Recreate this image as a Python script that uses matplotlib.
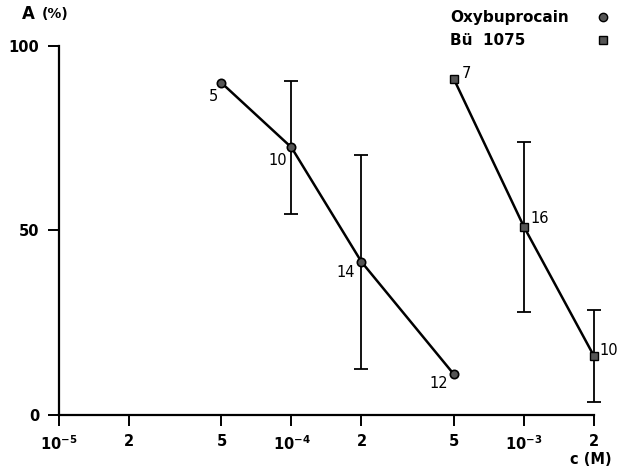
import matplotlib.pyplot as plt
import numpy as np

plt.rcParams['font.family'] = ['DejaVu Sans']

# concentration (M), response A (%), error half-width, number of observations
oxy_c = [5e-5, 1e-4, 2e-4, 5e-4]
oxy_a = [90, 72.5, 41.5, 11]
oxy_err = [0, 18, 29, 0]
oxy_n = ['5', '10', '14', '12']

bue_c = [5e-4, 1e-3, 2e-3]
bue_a = [91, 51, 16]
bue_err = [0, 23, 12.5]
bue_n = ['7', '16', '10']

xticks = [1e-5, 2e-5, 5e-5, 1e-4, 2e-4, 5e-4, 1e-3, 2e-3]
xticklabels = [r'$\mathbf{10^{-5}}$', '2', '5', r'$\mathbf{10^{-4}}$', '2', '5',
               r'$\mathbf{10^{-3}}$', '2']
yticks = [0, 50, 100]

fig = plt.figure(figsize=(6.17, 4.74), dpi=100)
ax = fig.add_axes([0.0956, 0.1245, 0.867, 0.7785])

ax.set_xscale('log')
ax.set_xlim(1e-5, 2e-3)
ax.set_ylim(0, 100)

# lines through the means
ax.plot(oxy_c, oxy_a, color='black', lw=1.8, zorder=2)
ax.plot(bue_c, bue_a, color='black', lw=1.8, zorder=2)

# error bars where a spread is given
for c, a, e in zip(oxy_c + bue_c, oxy_a + bue_a, oxy_err + bue_err):
    if e > 0:
        _, caps, bars = ax.errorbar([c], [a], yerr=[e], fmt='none',
                                    ecolor='black', elinewidth=1.3, capsize=5,
                                    capthick=1.3, zorder=1)
        for art in list(caps) + list(bars):
            art.set_clip_on(False)

ax.plot(oxy_c, oxy_a, 'o', ms=6, mfc='#555555', mec='black', mew=1.2,
        ls='none', zorder=3, clip_on=False)
ax.plot(bue_c, bue_a, 's', ms=6, mfc='#555555', mec='black', mew=1.0,
        ls='none', zorder=3, clip_on=False)

# n labels
oxy_off = [(-6, -10), (-10, -9.5), (-11, -8), (-11, -6.5)]
bue_off = [(9, 4), (11.5, 6), (11, 3.6)]
for c, a, n, off in zip(oxy_c, oxy_a, oxy_n, oxy_off):
    ax.annotate(n, (c, a), xytext=off, textcoords='offset points',
                ha='center', va='center', fontsize=10.5)
for c, a, n, off in zip(bue_c, bue_a, bue_n, bue_off):
    ax.annotate(n, (c, a), xytext=off, textcoords='offset points',
                ha='center', va='center', fontsize=10.5, annotation_clip=False)

for side in ('top', 'right'):
    ax.spines[side].set_visible(False)
for side in ('left', 'bottom'):
    ax.spines[side].set_linewidth(1.6)

ax.set_xticks(xticks)
ax.set_xticklabels(xticklabels)
ax.xaxis.set_minor_locator(plt.NullLocator())
ax.set_yticks(yticks)
ax.tick_params(axis='both', length=8, width=1.4, labelsize=10.5, pad=6)
for lab in ax.get_xticklabels() + ax.get_yticklabels():
    lab.set_fontweight('bold')

fig.text(0.992, 0.03, 'c (M)', ha='right', va='center', fontsize=10.5,
         fontweight='bold')
fig.text(0.036, 0.970, 'A', ha='left', va='center', fontsize=12,
         fontweight='bold')
fig.text(0.068, 0.970, '(%)', ha='left', va='center', fontsize=10,
         fontweight='bold')

# legend
fig.text(0.729, 0.964, 'Oxybuprocain', ha='left', va='center',
         fontsize=11, fontweight='bold')
fig.text(0.729, 0.915, 'Bü  1075', ha='left', va='center',
         fontsize=11, fontweight='bold')
ax.plot([0.977], [0.965], 'o', ms=6, mfc='#555555', mec='black',
        transform=fig.transFigure, clip_on=False)
ax.plot([0.977], [0.915], 's', ms=6, mfc='#555555', mec='black',
        transform=fig.transFigure, clip_on=False)

fig.savefig('out.png', dpi=100)
